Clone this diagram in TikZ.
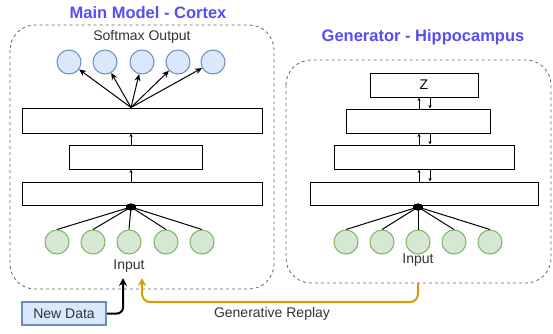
\documentclass[tikz,border=0pt]{standalone}
\usepackage{fontspec}
\setmainfont{Liberation Sans}
\usetikzlibrary{arrows.meta,shapes.geometric}
\definecolor{titleblue}{RGB}{88,76,245}
\definecolor{gfill}{HTML}{D5E8D4}
\definecolor{gline}{HTML}{82B366}
\definecolor{bfill}{HTML}{DAE8FC}
\definecolor{bline}{HTML}{6C8EBF}
\definecolor{orng}{HTML}{D79B00}
\definecolor{txtgray}{HTML}{333333}
\tikzset{
  container/.style={draw=black!60, dashed, rounded corners=25pt, line width=0.8pt},
  layer/.style={draw=black, line width=1pt, fill=white, inner sep=0pt, font=\fontsize{14}{16}\selectfont},
  outc/.style={circle, draw=bline, fill=bfill, line width=1pt, minimum size=24pt, inner sep=0pt},
  inc/.style={circle, draw=gline, fill=gfill, line width=1pt, minimum size=24pt, inner sep=0pt},
  title/.style={font=\fontsize{16.5}{19}\selectfont\bfseries, text=titleblue},
  lbl/.style={font=\fontsize{14}{16}\selectfont, text=txtgray},
  sarrow/.style={draw=black, line width=0.8pt, -{Stealth[length=3.5pt,width=3pt]}},
  oarrow/.style={draw=black, line width=1pt, -{Stealth[length=7pt,width=6pt]}},
  conn/.style={draw=black, line width=1pt},
  dotn/.style={ellipse, fill=black, minimum width=10pt, minimum height=7pt, inner sep=0pt},
}
\begin{document}
\begin{tikzpicture}[x=1pt,y=-1pt]
\useasboundingbox (0,0) rectangle (553,333);
% containers
\draw[container] (10,25) rectangle (274,289);
\draw[container] (286,60) rectangle (551,283);
\node[title] (tl) at (148,13) {Main Model - Cortex};
\node[title] (tr) at (423,37) {Generator - Hippocampus};
% left model
\node[lbl] (smx) at (142,37) {Softmax Output};
\foreach \i/\x in {1/69,2/105,3/142,4/178,5/213}
  \node[outc] (o\i) at (\x,62) {};
\node[layer, minimum width=240pt, minimum height=25pt] (L3) at (142,120.5) {};
\node[layer, minimum width=133pt, minimum height=24pt] (L2) at (135.5,157) {};
\node[layer, minimum width=240pt, minimum height=23pt] (L1) at (142,193.5) {};
\coordinate (cl) at (131,0);
\foreach \i in {1,...,5}
  \draw[oarrow] (L3.north -| cl) -- (o\i);
\draw[sarrow] (L1.north -| cl) -- (L2.south -| cl);
\draw[sarrow] (L2.north -| cl) -- (L3.south -| cl);
\foreach \i/\x in {1/57,2/93,3/129,4/166,5/202}
  \node[inc] (i\i) at (\x,242) {};
\node[dotn] (dl) at (131,207) {};
\foreach \i in {1,...,5}
  \draw[conn] (dl.center) -- (i\i.north);
\node[dotn] at (131,207) {};
\node[lbl] (inl) at (129,266) {Input};
% right generator
\node[layer, minimum width=108pt, minimum height=24pt] (Z) at (424,85) {Z};
\node[layer, minimum width=144pt, minimum height=24pt] (R3) at (418,121) {};
\node[layer, minimum width=180pt, minimum height=24pt] (R2) at (424,157) {};
\node[layer, minimum width=228pt, minimum height=23pt] (R1) at (424,193.5) {};
\coordinate (cu) at (419,0);
\coordinate (cd) at (430,0);
\draw[sarrow] (R1.north -| cu) -- (R2.south -| cu);
\draw[sarrow] (R2.south -| cd) -- (R1.north -| cd);
\draw[sarrow] (R2.north -| cu) -- (R3.south -| cu);
\draw[sarrow] (R3.south -| cd) -- (R2.north -| cd);
\draw[sarrow] (R3.north -| cu) -- (Z.south -| cu);
\draw[sarrow] (Z.south -| cd) -- (R3.north -| cd);
\foreach \i/\x in {1/346,2/382,3/418,4/454,5/490}
  \node[inc] (j\i) at (\x,242) {};
\node[dotn] (dr) at (418,207) {};
\foreach \i in {1,...,5}
  \draw[conn] (dr.center) -- (j\i.north);
\node[dotn] at (418,207) {};
\node[lbl] (inr) at (418,260) {Input};
% new data and replay
\node[draw=bline, fill=bfill, line width=1.6pt, minimum width=84pt, minimum height=23pt, inner sep=0pt, font=\fontsize{14}{16}\selectfont, text=txtgray] (nd) at (64,313.5) {New Data};
\coordinate (bt) at (123,278);
\draw[line width=2pt, black, rounded corners=6pt, -{Stealth[length=8pt,width=8pt]}] (nd.east) -| (bt);
\coordinate (rs) at (418,283);
\coordinate (ot) at (142,278);
\draw[line width=2pt, orng, rounded corners=8pt, -{Stealth[length=8pt,width=8pt]}] (rs) -- (418,302) -| (ot);
\node[lbl] (gr) at (272,314) {Generative Replay};
\end{tikzpicture}
\end{document}
